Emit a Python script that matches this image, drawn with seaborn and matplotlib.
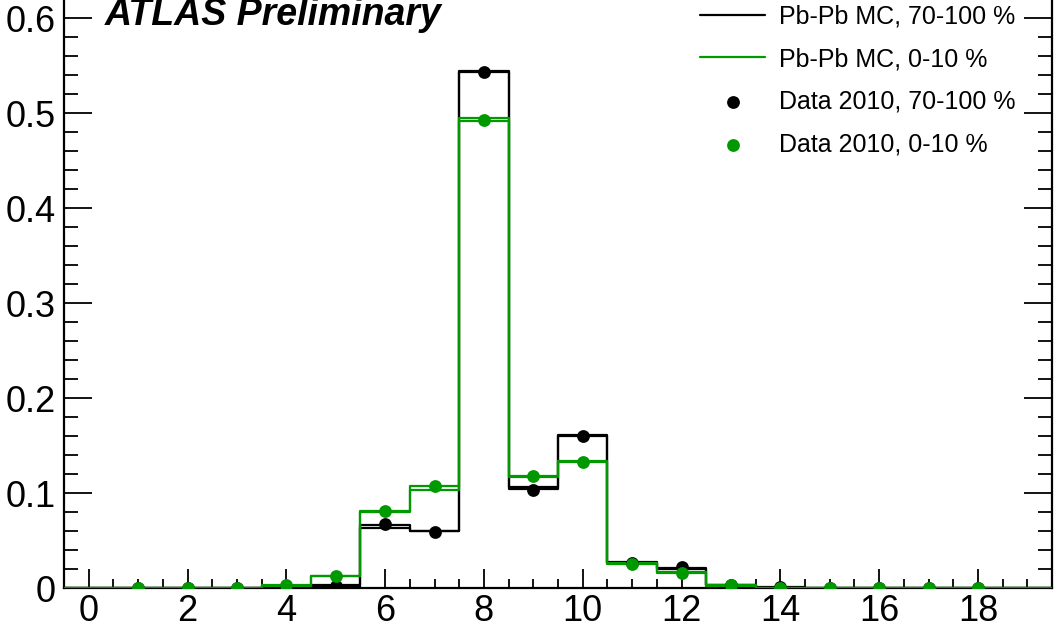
import numpy as np
import pandas as pd
import seaborn as sns
from matplotlib import pyplot as plt
from matplotlib.ticker import MultipleLocator

# bin centres 0..19, unit width
bins = np.arange(20)
edges = np.arange(-0.5, 20.0, 1.0)

# MC histograms, drawn as lower/upper outline (two close lines)
mc_periph_lo = [0, 0, 0, 0, 0.0018, 0.001, 0.063, 0.060, 0.543, 0.1045,
                0.160, 0.027, 0.020, 0.003, 0.0008, 0, 0, 0, 0, 0]
mc_periph_hi = [0, 0, 0, 0, 0.0025, 0.003, 0.067, 0.060, 0.545, 0.107,
                0.161, 0.028, 0.0217, 0.004, 0.001, 0, 0, 0, 0, 0]
mc_central_lo = [0, 0, 0, 0, 0.002, 0.013, 0.080, 0.1035, 0.492, 0.1175,
                 0.133, 0.026, 0.0165, 0.002, 0.0005, 0, 0, 0, 0, 0]
mc_central_hi = [0, 0, 0, 0, 0.003, 0.013, 0.081, 0.1077, 0.495, 0.118,
                 0.134, 0.027, 0.017, 0.003, 0.0005, 0, 0, 0, 0, 0]

# data points at x = 1..18
data_x = np.arange(1, 19)
data_periph = [0, 0, 0, 0.001, 0.002, 0.068, 0.059, 0.544, 0.103, 0.160,
               0.027, 0.0227, 0.0035, 0.001, 0, 0, 0, 0]
data_central = [0, 0, 0, 0.003, 0.013, 0.081, 0.108, 0.493, 0.118, 0.1326,
                0.026, 0.0165, 0.003, 0.0008, 0, 0, 0, 0]

black = '#000000'
green = '#009900'

sns.set_theme(style="ticks")
plt.rcParams['font.family'] = ['Liberation Sans', 'DejaVu Sans']
plt.rcParams['text.color'] = 'black'

fig = plt.figure(figsize=(10.57, 6.26), dpi=100)
ax = fig.add_axes([64 / 1057, 1 - 588.3 / 626, (1052 - 64) / 1057, 617.5 / 626])


def step_df(vals):
    return pd.DataFrame({'x': edges, 'y': list(vals) + [vals[-1]]})


sns.lineplot(data=step_df(mc_periph_lo), x='x', y='y', drawstyle='steps-post',
             color=black, lw=1.6, estimator=None, ax=ax, zorder=2)
sns.lineplot(data=step_df(mc_periph_hi), x='x', y='y', drawstyle='steps-post',
             color=black, lw=1.6, estimator=None, ax=ax, zorder=2,
             label='Pb-Pb MC, 70-100 %')
sns.lineplot(data=step_df(mc_central_lo), x='x', y='y', drawstyle='steps-post',
             color=green, lw=1.6, estimator=None, ax=ax, zorder=3)
sns.lineplot(data=step_df(mc_central_hi), x='x', y='y', drawstyle='steps-post',
             color=green, lw=1.6, estimator=None, ax=ax, zorder=3,
             label='Pb-Pb MC, 0-10 %')

sns.scatterplot(x=data_x, y=data_periph, color=black, s=85, linewidth=0,
                ax=ax, zorder=4, label='Data 2010, 70-100 %')
sns.scatterplot(x=data_x, y=data_central, color=green, s=85, linewidth=0,
                ax=ax, zorder=5, label='Data 2010, 0-10 %')

ax.set_xlim(-0.5, 19.5)
ax.set_ylim(0, 0.65)
ax.set_xlabel("")
ax.set_ylabel("")

ax.xaxis.set_major_locator(MultipleLocator(2))
ax.xaxis.set_minor_locator(MultipleLocator(0.5))
ax.yaxis.set_major_locator(MultipleLocator(0.1))
ax.yaxis.set_minor_locator(MultipleLocator(0.02))
ax.yaxis.set_major_formatter(plt.FuncFormatter(lambda v, p: '0' if abs(v) < 1e-9 else '%g' % v))

for s in ax.spines.values():
    s.set_color('black')
    s.set_linewidth(1.6)

ax.tick_params(axis='x', which='major', direction='in', length=13.7, width=1.3,
               labelsize=26, pad=4, top=True, colors='black', labelcolor='black')
ax.tick_params(axis='x', which='minor', direction='in', length=6.8, width=1.3, top=True,
               colors='black')
ax.tick_params(axis='y', which='major', direction='in', length=20, width=1.3,
               labelsize=26, pad=6, right=True, colors='black', labelcolor='black')
ax.tick_params(axis='y', which='minor', direction='in', length=10, width=1.3, right=True,
               colors='black')

handles, labels = ax.get_legend_handles_labels()
ax.get_legend().remove()
leg = fig.legend(handles, labels, loc='upper left', bbox_to_anchor=(700 / 1057, 0.993),
                 bbox_transform=fig.transFigure, frameon=False, fontsize=18,
                 handlelength=2.6, handletextpad=0.55, labelspacing=0.75,
                 borderpad=0, borderaxespad=0, markerscale=1.0)
for t in leg.get_texts():
    t.set_color('black')

fig.text(105 / 1057, 1 - 25 / 626, 'ATLAS Preliminary', fontsize=27, color='black',
         fontweight='bold', fontstyle='italic', va='baseline', ha='left')

plt.savefig('out.png', dpi=100)
